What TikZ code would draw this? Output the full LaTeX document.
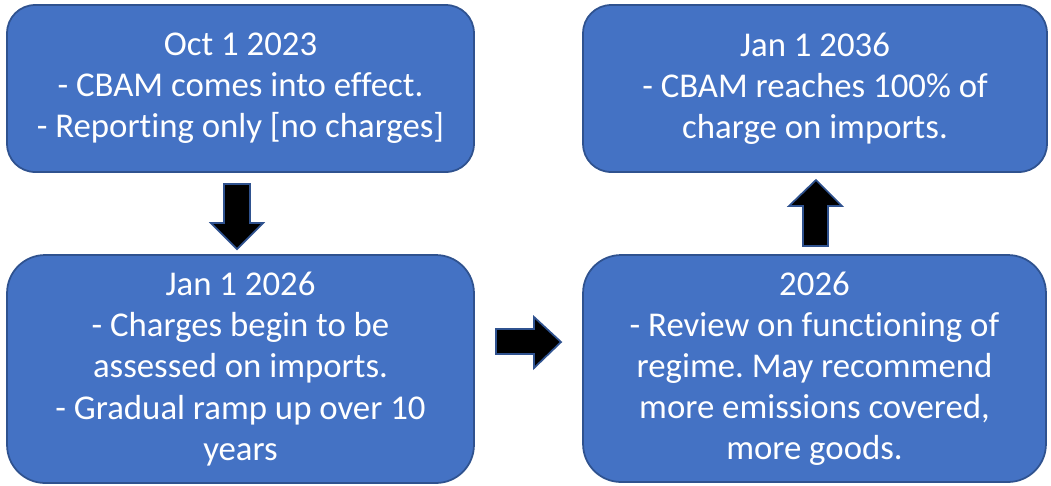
\documentclass[tikz,border=0pt]{standalone}
\usepackage{fontspec}
\setmainfont{Carlito}[Ligatures=CommonOff]
\frenchspacing
\definecolor{boxblue}{HTML}{4472C4}
\definecolor{boxedge}{HTML}{2F528F}
\tikzset{
  stagebox/.style={draw=boxedge,fill=boxblue,line width=1pt,text=white,align=center,
    font=\fontsize{19.8}{23.4}\selectfont,inner sep=0pt},
  blockarrow/.style={draw=boxedge,fill=black,line width=1pt,line join=miter}
}
\begin{document}
\begin{tikzpicture}[x=0.02cm,y=-0.02cm]
    \useasboundingbox (0,0) rectangle (1051,485);
    %BOXES LEFT
    \node[stagebox,minimum width=9.34cm,minimum height=3.34cm,rounded corners=0.56cm] (oct23) at (240.5,88.5)
        {Oct 1 2023\\- CBAM comes into effect.\\- Reporting only [no charges]};
    \node[stagebox,minimum width=9.34cm,minimum height=4.56cm,rounded corners=0.76cm] (jan26) at (240.5,369)
        {Jan 1 2026\\- Charges begin to be\\assessed on imports.\\- Gradual ramp up over 10\\years};
    %BOXES RIGHT
    \node[stagebox,minimum width=9.26cm,minimum height=4.54cm,rounded corners=0.76cm] (rev26) at (814.5,368.5)
        {2026\\- Review on functioning of\\regime. May recommend\\more emissions covered,\\more goods.};
    \node[stagebox,minimum width=9.28cm,minimum height=3.34cm,rounded corners=0.56cm] (jan36) at (815,88.5)
        {Jan 1 2036\\- CBAM reaches 100\% of\\charge on imports.};

    %ARROW DOWN
    \draw[blockarrow] (224,184) -- (250,184) -- (250,223) -- (263,223) -- (237,249) -- (211,223) -- (224,223) -- cycle;
    %ARROW RIGHT
    \draw[blockarrow] (496,329) -- (534,329) -- (534,317) -- (561,342) -- (534,368) -- (534,354) -- (496,354) -- cycle;
    %ARROW UP
    \draw[blockarrow] (803,246) -- (803,206) -- (789,206) -- (816,180) -- (842,206) -- (828,206) -- (828,246) -- cycle;
\end{tikzpicture}
\end{document}
